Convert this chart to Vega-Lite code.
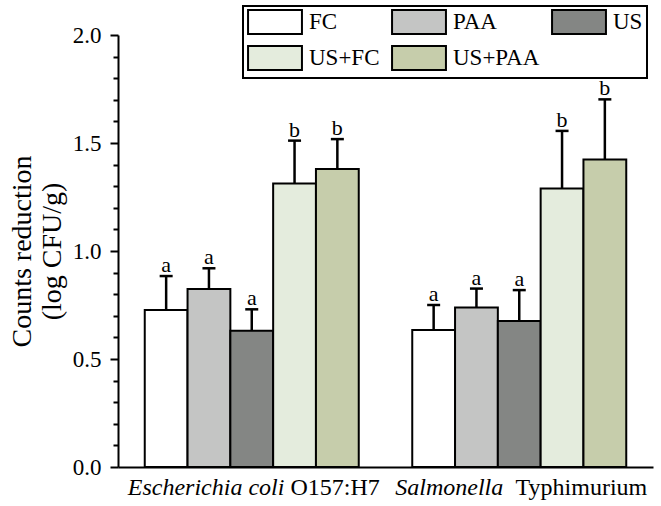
{
  "$schema": "https://vega.github.io/schema/vega-lite/v6.json",
  "width": 535,
  "height": 432,
  "autosize": "none",
  "padding": {"left": 118, "top": 35, "right": 8, "bottom": 39},
  "background": "white",
  "config": {
    "view": {"stroke": null},
    "font": "Liberation Serif",
    "text": {"font": "Liberation Serif", "color": "black"},
    "axis": {"labelFont": "Liberation Serif", "titleFont": "Liberation Serif", "labelColor": "black", "titleColor": "black"},
    "axisY": {
      "labelFont": "Liberation Serif",
      "labelFontSize": 23,
      "labelOverlap": false,
      "labelBound": false,
      "labelPadding": 9,
      "tickWidth": 2,
      "tickColor": "black",
      "domainColor": "black",
      "domainWidth": 2,
      "grid": false,
      "titleFontSize": 28,
      "titleFontWeight": "normal",
      "titlePadding": 6,
      "titleLineHeight": 30
    },
    "legend": {"strokeWidth": 2, "labelFont": "Liberation Serif"}
  },
  "datasets": {
    "bars": [
      {"group": "Escherichia coli O157:H7", "treatment": "FC", "mean": 0.727, "upper": 0.884, "letter": "a"},
      {"group": "Escherichia coli O157:H7", "treatment": "PAA", "mean": 0.824, "upper": 0.920, "letter": "a"},
      {"group": "Escherichia coli O157:H7", "treatment": "US", "mean": 0.631, "upper": 0.730, "letter": "a"},
      {"group": "Escherichia coli O157:H7", "treatment": "US+FC", "mean": 1.313, "upper": 1.511, "letter": "b"},
      {"group": "Escherichia coli O157:H7", "treatment": "US+PAA", "mean": 1.380, "upper": 1.518, "letter": "b"},
      {"group": "Salmonella Typhimurium", "treatment": "FC", "mean": 0.634, "upper": 0.750, "letter": "a"},
      {"group": "Salmonella Typhimurium", "treatment": "PAA", "mean": 0.738, "upper": 0.826, "letter": "a"},
      {"group": "Salmonella Typhimurium", "treatment": "US", "mean": 0.676, "upper": 0.819, "letter": "a"},
      {"group": "Salmonella Typhimurium", "treatment": "US+FC", "mean": 1.289, "upper": 1.556, "letter": "b"},
      {"group": "Salmonella Typhimurium", "treatment": "US+PAA", "mean": 1.424, "upper": 1.702, "letter": "b"}
    ],
    "labels": [
      {"group": "Escherichia coli O157:H7", "species": "Escherichia coli", "strain": "O157:H7"},
      {"group": "Salmonella Typhimurium", "species": "Salmonella", "strain": "Typhimurium"}
    ]
  },
  "layer": [
    {
      "data": {"name": "bars"},
      "mark": {"type": "bar", "stroke": "black", "strokeWidth": 2},
      "encoding": {
        "x": {
          "field": "group", "type": "nominal",
          "scale": {"domain": ["Escherichia coli O157:H7", "Salmonella Typhimurium"], "paddingInner": 0.2, "paddingOuter": 0.1},
          "axis": {"labels": false, "ticks": false, "title": null, "domainColor": "black", "domainWidth": 2}
        },
        "xOffset": {
          "field": "treatment", "type": "nominal",
          "scale": {"domain": ["FC", "PAA", "US", "US+FC", "US+PAA"], "paddingInner": 0, "paddingOuter": 0}
        },
        "y": {
          "field": "mean", "type": "quantitative",
          "scale": {"domain": [0, 2], "nice": false},
          "axis": {
            "values": [0, 0.1, 0.2, 0.3, 0.4, 0.5, 0.6, 0.7, 0.8, 0.9, 1.0, 1.1, 1.2, 1.3, 1.4, 1.5, 1.6, 1.7, 1.8, 1.9, 2.0],
            "labelExpr": "round(datum.value*10) % 5 === 0 ? format(datum.value, '.1f') : ''",
            "labelOverlap": false,
            "labelFont": "Liberation Serif",
            "labelFontSize": 23,
            "labelPadding": 9,
            "titleFont": "Liberation Serif",
            "titleFontSize": 28,
            "titlePadding": 6,
            "titleLineHeight": 30,
            "tickSize": {"condition": {"test": "round(datum.value*10) % 5 === 0", "value": 8}, "value": 5},
            "title": ["Counts reduction", "(log CFU/g)"]
          }
        },
        "fill": {
          "field": "treatment", "type": "nominal",
          "scale": {"domain": ["FC", "PAA", "US", "US+FC", "US+PAA"], "range": ["#ffffff", "#c4c5c4", "#848684", "#e4ecdd", "#c6cdab"]},
          "legend": {
            "title": null,
            "orient": "none",
            "legendX": 125,
            "legendY": -29,
            "direction": "horizontal",
            "columns": 3,
            "strokeColor": "black",
            "fillColor": "white",
            "padding": 4,
            "labelFont": "Liberation Serif",
            "labelFontSize": 23,
            "labelColor": "black",
            "labelOffset": 22,
            "symbolType": "M-2.45,-1.09H2.45V1.09H-2.45Z",
            "symbolSize": 484,
            "symbolOffset": 16,
            "symbolStrokeColor": "black",
            "symbolStrokeWidth": 2,
            "symbolOpacity": 1,
            "rowPadding": 4,
            "columnPadding": 8
          }
        }
      }
    },
    {
      "data": {"name": "bars"},
      "mark": {"type": "rule", "color": "black", "strokeWidth": 2.5},
      "encoding": {
        "x": {"field": "group", "type": "nominal"},
        "xOffset": {"field": "treatment", "type": "nominal"},
        "y": {
          "field": "mean", "type": "quantitative",
          "axis": {
            "values": [0, 0.1, 0.2, 0.3, 0.4, 0.5, 0.6, 0.7, 0.8, 0.9, 1.0, 1.1, 1.2, 1.3, 1.4, 1.5, 1.6, 1.7, 1.8, 1.9, 2.0],
            "labelExpr": "round(datum.value*10) % 5 === 0 ? format(datum.value, '.1f') : ''",
            "labelOverlap": false,
            "labelFont": "Liberation Serif",
            "labelFontSize": 23,
            "labelPadding": 9,
            "titleFont": "Liberation Serif",
            "titleFontSize": 28,
            "titlePadding": 6,
            "titleLineHeight": 30,
            "tickSize": {"condition": {"test": "round(datum.value*10) % 5 === 0", "value": 8}, "value": 5},
            "title": ["Counts reduction", "(log CFU/g)"]
          }
        },
        "y2": {"field": "upper"}
      }
    },
    {
      "data": {"name": "bars"},
      "mark": {"type": "tick", "color": "black", "size": 13, "thickness": 2.5, "opacity": 1},
      "encoding": {
        "x": {"field": "group", "type": "nominal"},
        "xOffset": {"field": "treatment", "type": "nominal"},
        "y": {
          "field": "upper", "type": "quantitative",
          "axis": {
            "values": [0, 0.1, 0.2, 0.3, 0.4, 0.5, 0.6, 0.7, 0.8, 0.9, 1.0, 1.1, 1.2, 1.3, 1.4, 1.5, 1.6, 1.7, 1.8, 1.9, 2.0],
            "labelExpr": "round(datum.value*10) % 5 === 0 ? format(datum.value, '.1f') : ''",
            "labelOverlap": false,
            "labelFont": "Liberation Serif",
            "labelFontSize": 23,
            "labelPadding": 9,
            "titleFont": "Liberation Serif",
            "titleFontSize": 28,
            "titlePadding": 6,
            "titleLineHeight": 30,
            "tickSize": {"condition": {"test": "round(datum.value*10) % 5 === 0", "value": 8}, "value": 5},
            "title": ["Counts reduction", "(log CFU/g)"]
          }
        }
      }
    },
    {
      "data": {"name": "bars"},
      "mark": {"type": "text", "baseline": "alphabetic", "dy": -4, "fontSize": 22, "font": "Liberation Serif", "color": "black"},
      "encoding": {
        "x": {"field": "group", "type": "nominal"},
        "xOffset": {"field": "treatment", "type": "nominal"},
        "y": {
          "field": "upper", "type": "quantitative",
          "axis": {
            "values": [0, 0.1, 0.2, 0.3, 0.4, 0.5, 0.6, 0.7, 0.8, 0.9, 1.0, 1.1, 1.2, 1.3, 1.4, 1.5, 1.6, 1.7, 1.8, 1.9, 2.0],
            "labelExpr": "round(datum.value*10) % 5 === 0 ? format(datum.value, '.1f') : ''",
            "labelOverlap": false,
            "labelFont": "Liberation Serif",
            "labelFontSize": 23,
            "labelPadding": 9,
            "titleFont": "Liberation Serif",
            "titleFontSize": 28,
            "titlePadding": 6,
            "titleLineHeight": 30,
            "tickSize": {"condition": {"test": "round(datum.value*10) % 5 === 0", "value": 8}, "value": 5},
            "title": ["Counts reduction", "(log CFU/g)"]
          }
        },
        "text": {"field": "letter"}
      }
    },
    {
      "data": {"name": "labels"},
      "mark": {"type": "text", "align": "left", "baseline": "alphabetic", "dx": -17, "dy": 28, "fontSize": 24, "fontStyle": "italic", "font": "Liberation Serif", "color": "black"},
      "encoding": {
        "x": {"field": "group", "type": "nominal", "bandPosition": 0},
        "y": {
          "datum": 0, "type": "quantitative",
          "axis": {
            "values": [0, 0.1, 0.2, 0.3, 0.4, 0.5, 0.6, 0.7, 0.8, 0.9, 1.0, 1.1, 1.2, 1.3, 1.4, 1.5, 1.6, 1.7, 1.8, 1.9, 2.0],
            "labelExpr": "round(datum.value*10) % 5 === 0 ? format(datum.value, '.1f') : ''",
            "labelOverlap": false,
            "labelFont": "Liberation Serif",
            "labelFontSize": 23,
            "labelPadding": 9,
            "titleFont": "Liberation Serif",
            "titleFontSize": 28,
            "titlePadding": 6,
            "titleLineHeight": 30,
            "tickSize": {"condition": {"test": "round(datum.value*10) % 5 === 0", "value": 8}, "value": 5},
            "title": ["Counts reduction", "(log CFU/g)"]
          }
        },
        "text": {"field": "species"}
      }
    },
    {
      "data": {"name": "labels"},
      "mark": {"type": "text", "align": "right", "baseline": "alphabetic", "dx": 21, "dy": 28, "fontSize": 24, "font": "Liberation Serif", "color": "black"},
      "encoding": {
        "x": {"field": "group", "type": "nominal", "bandPosition": 1},
        "y": {
          "datum": 0, "type": "quantitative",
          "axis": {
            "values": [0, 0.1, 0.2, 0.3, 0.4, 0.5, 0.6, 0.7, 0.8, 0.9, 1.0, 1.1, 1.2, 1.3, 1.4, 1.5, 1.6, 1.7, 1.8, 1.9, 2.0],
            "labelExpr": "round(datum.value*10) % 5 === 0 ? format(datum.value, '.1f') : ''",
            "labelOverlap": false,
            "labelFont": "Liberation Serif",
            "labelFontSize": 23,
            "labelPadding": 9,
            "titleFont": "Liberation Serif",
            "titleFontSize": 28,
            "titlePadding": 6,
            "titleLineHeight": 30,
            "tickSize": {"condition": {"test": "round(datum.value*10) % 5 === 0", "value": 8}, "value": 5},
            "title": ["Counts reduction", "(log CFU/g)"]
          }
        },
        "text": {"field": "strain"}
      }
    }
  ]
}
